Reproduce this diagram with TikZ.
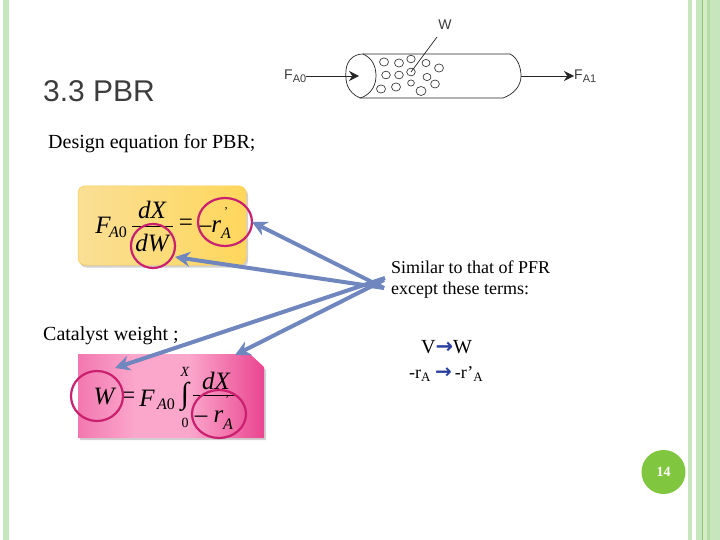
\documentclass[tikz,border=0pt]{standalone}
\usepackage{fontspec}
\setmainfont{Liberation Serif}
\newfontfamily\arialf{Liberation Sans}
\newfontfamily\arrowf{DejaVu Sans}
\usetikzlibrary{arrows.meta}
\definecolor{barlight}{HTML}{C8E6BE}
\definecolor{barmid}{HTML}{B4DCA4}
\definecolor{barpale}{HTML}{D4EDC8}
\definecolor{bardark}{HTML}{8CC870}
\definecolor{bluearrow}{HTML}{6F86BE}
\definecolor{ringpink}{HTML}{C9206F}
\definecolor{badge}{HTML}{80C63E}
\definecolor{graytxt}{HTML}{3C3C3C}
\definecolor{yelL}{HTML}{FADF95}
\definecolor{yelR}{HTML}{FFD75C}
\definecolor{pinkL}{HTML}{F278B0}
\definecolor{pinkM}{HTML}{FBA6CB}
\definecolor{pinkR}{HTML}{EA4590}
\definecolor{arrowtxt}{HTML}{2A3FA0}
\pgfdeclarehorizontalshading{pinkcard}{100bp}{
  color(0bp)=(pinkL); color(25bp)=(pinkL); color(40bp)=(pinkM); color(55bp)=(pinkM); color(75bp)=(pinkR); color(100bp)=(pinkR)}
\tikzset{
  fs/.style={font=\fontsize{#1}{#1}\selectfont},
  bartile/.style={fill=#1,draw=none},
  serift/.style={anchor=west,inner sep=0pt,text=black,fs=20},
  eq/.style={inner sep=0pt,text=black,font=\fontsize{25}{25}\selectfont\itshape},
  eqs/.style={inner sep=0pt,text=black,font=\fontsize{16}{16}\selectfont\itshape},
  ring/.style={draw=ringpink,line width=2.2pt,fill=none},
  conn/.style={draw=bluearrow,line width=4pt,-{Stealth[length=15pt,width=15pt]}},
  pipe/.style={draw=black!85,line width=0.7pt},
  bead/.style={draw=black!85,line width=0.6pt,fill=white},
  reactxt/.style={inner sep=0pt,text=graytxt,font=\fontsize{14}{14}\selectfont\arialf},
  flow/.style={draw=black!85,line width=0.7pt,-{Stealth[length=10pt,width=10pt]}}
}
\begin{document}
\begin{tikzpicture}[x=1pt,y=-1pt]
\useasboundingbox (0,0) rectangle (720,540);
\fill[white] (0,0) rectangle (720,540);
% side bars
\fill[bartile=barlight] (3,0) rectangle (9,540);
\fill[bartile=barlight] (688,0) rectangle (692,540);
\fill[bartile=barlight] (696,0) rectangle (702,540);
\fill[bartile=bardark] (702,0) rectangle (703,540);
\fill[bartile=barpale] (703,0) rectangle (707,540);
\fill[bartile=barmid] (707,0) rectangle (710,540);
\fill[bartile=barlight] (710,0) rectangle (720,540);
% reactor
\draw[pipe] (363,54) -- (510,54) .. controls (518,58) and (521,68) .. (521,76)
  .. controls (521,86) and (514,94) .. (503,98) -- (360,98);
\draw[pipe] (363,54) .. controls (354,54) and (347,60) .. (346,70)
  .. controls (345,82) and (347,92) .. (360,98)
  .. controls (368,96) and (376,88) .. (376,76)
  .. controls (376,66) and (372,58) .. (363,54);
\foreach \x/\y/\r in {384/62/4.5,399/63/4.5,411/59/4.2,426/63/4,439/68/4.5,
  386/75/4.3,399/75/4.3,411/72/4.3,427/77/4,435/84/4.4,
  381/89/4.5,396/87/4.5,411/83/3.4,421/91/5}
  \draw[bead] (\x,\y) ellipse ({\r} and {\r*0.9});
\coordinate (wstart) at (437,37);
\coordinate (wend) at (411,72);
\draw[pipe] (wstart) -- (wend);
\node[reactxt] (wlabel) at (445,25) {W};
\node[reactxt,anchor=west] (fa0) at (284,76) {F\raisebox{-3pt}{\fontsize{11}{11}\selectfont A0}};
\node[reactxt,anchor=west] (fa1) at (574,76) {F\raisebox{-3pt}{\fontsize{11}{11}\selectfont A1}};
\draw[flow] (fa0.east) -- (359,76);
\coordinate (rout) at (521,76);
\draw[flow] (rout) -- (fa1.west);
% headings
\node[anchor=west,inner sep=0pt,text=graytxt,font=\fontsize{30}{30}\selectfont\arialf] (title) at (43,91) {3.3 PBR};
\node[serift] (design) at (48,144) {Design equation for PBR;};
\node[serift] (cat) at (43,336) {Catalyst weight ;};
\node[serift,fs=18,anchor=west] (sim1) at (391,267) {Similar to that of PFR};
\node[serift,fs=18,anchor=west] (sim2) at (391,290) {except these terms:};
\node[serift,anchor=west,fs=20] (vw) at (421,347) {V\textcolor{arrowtxt}{\arrowf\fontsize{21}{21}\selectfont\bfseries →}W};
\node[serift,anchor=west,fs=18] (rr) at (409,374) {-r\raisebox{-3pt}{\fontsize{13}{13}\selectfont A} \textcolor{arrowtxt}{\arrowf\fontsize{20}{20}\selectfont\bfseries →}\,-r’\raisebox{-3pt}{\fontsize{13}{13}\selectfont A}};
% yellow card
\fill[black!18,rounded corners=7pt] (79.5,188.5) rectangle (248,267.5);
\path[left color=yelL,right color=yelR,draw=yelR!85!orange,rounded corners=7pt,line width=0.5pt]
  (78,186) rectangle (246,265);
\node[eq] (f1) at (103,225) {F};
\node[eqs] (f1s) at (118,232) {A\textup{0}};
\node[eq] (f1n) at (152,210) {dX};
\node[eq] (f1d) at (152,243) {dW};
\coordinate (fb1) at (132,226);
\coordinate (fb2) at (173,226);
\draw[black,line width=0.8pt] (fb1) -- (fb2);
\node[eq,font=\fontsize{25}{25}\selectfont] (f1e) at (186,225) {=};
\node[eq] (f1r) at (210,227) {–r};
\node[eqs] (f1a) at (226,233) {A};
\node[eqs,font=\fontsize{12}{12}\selectfont] (f1p) at (226,212) {'};
\draw[ring] (153,246) circle (22);
\draw[ring] (225,222) ellipse (27 and 24);
% pink card
\fill[black!18] (80,356) -- (250,356) -- (266,370) -- (266,440) -- (80,440) -- cycle;
\shade[shading=pinkcard] (78,354) -- (250,354) -- (264,367) -- (264,438) -- (78,438) -- cycle;
\node[eq] (f2w) at (104,397) {W};
\node[eq] (f2e) at (128,398) {=};
\node[eq] (f2f) at (147,398) {F};
\node[eqs] (f2s) at (166,404) {A\textup{0}};
\node[eq,font=\fontsize{30}{30}\selectfont] (f2i) at (185,397) {∫};
\node[eqs,font=\fontsize{14}{14}\selectfont\itshape] (f2x) at (185,372) {X};
\node[eqs,font=\fontsize{14}{14}\selectfont] (f2o) at (185,423) {0};
\node[eq] (f2n) at (216,381) {dX};
\coordinate (fc1) at (193,395);
\coordinate (fc2) at (237,395);
\draw[black,line width=0.8pt] (fc1) -- (fc2);
\node[eq] (f2r) at (209,417) {– r};
\node[eqs] (f2a) at (228,424) {A};
\node[eqs,font=\fontsize{12}{12}\selectfont] (f2p) at (227,400) {'};
\draw[ring] (97,396) ellipse (26 and 25);
\draw[ring] (219,414) ellipse (27 and 24);
% connectors
\coordinate (h1) at (384,288);
\coordinate (h2) at (384,288);
\coordinate (h3) at (385,278);
\coordinate (h4) at (384,280);
\coordinate (t1) at (252,222);
\coordinate (t2) at (175,257);
\coordinate (t3) at (115,368);
\coordinate (t4) at (235,355);
\draw[conn] (h1) -- (t1);
\draw[conn] (h2) -- (t2);
\draw[conn] (h3) -- (t3);
\draw[conn] (h4) -- (t4);
% page badge
\node[circle,fill=badge,minimum size=44pt,inner sep=0pt,text=white,font=\fontsize{14}{14}\selectfont\bfseries] (page) at (663.5,472) {14};
\end{tikzpicture}
\end{document}
